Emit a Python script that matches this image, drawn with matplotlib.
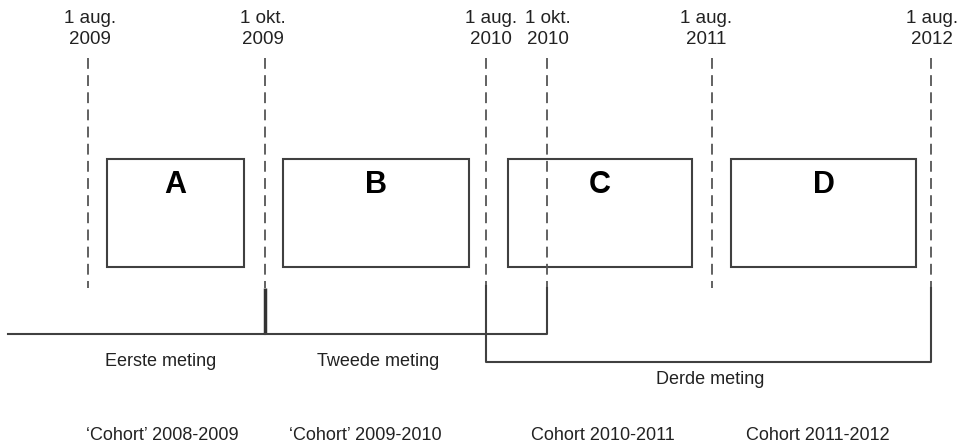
import matplotlib.pyplot as plt
from matplotlib.patches import Rectangle

plt.rcParams['font.family'] = ['Liberation Sans', 'DejaVu Sans']

# schematic timeline (positions on the diagram, left to right)
dates = ['1 aug.\n2009', '1 okt.\n2009', '1 aug.\n2010', '1 okt.\n2010', '1 aug.\n2011', '1 aug.\n2012']
date_pos = [88, 265, 486, 547, 712, 931]
label_pos = [90, 263, 491, 548, 706, 932]

blocks = ['A', 'B', 'C', 'D']
block_start = [107, 283, 508, 731]
block_end = [244, 469, 692, 916]

# measurements: (start, end, level)
metingen = ['Eerste meting', 'Tweede meting', 'Derde meting']
meting_start = [8, 265, 486]
meting_end = [265, 547, 931]
meting_level = [334, 334, 362]
meting_text_pos = [161, 378, 710]
meting_text_y = [362, 362, 380]

cohorts = ["\u2018Cohort\u2019 2008-2009", "\u2018Cohort\u2019 2009-2010", "Cohort 2010-2011", "Cohort 2011-2012"]
cohort_pos = [162, 365, 603, 818]

line_col = '#404040'

fig = plt.figure(figsize=(9.64, 4.46), dpi=100)
ax = fig.add_axes([0, 0, 1, 1])
ax.set_xlim(0, 964)
ax.set_ylim(446, 0)
ax.axis('off')

# dashed date lines and labels
for lab, x, lx in zip(dates, date_pos, label_pos):
    ax.plot([x, x], [58, 288], color='#555555', lw=1.3, ls=(0, (6, 3.5)))
    ax.text(lx, 29, lab, ha='center', va='center', fontsize=13.5, linespacing=1.3, color='#222222')

# boxes
for name, x0, x1 in zip(blocks, block_start, block_end):
    ax.add_patch(Rectangle((x0, 159), x1 - x0, 108, fill=False, ec=line_col, lw=1.5))
    ax.text((x0 + x1) / 2, 185, name, ha='center', va='center', fontsize=22, fontweight='bold')

# measurement brackets
ax.plot([meting_start[0], meting_end[0]], [meting_level[0], meting_level[0]], color=line_col, lw=1.5)
ax.plot([265, 265], [288, meting_level[0]], color='#333333', lw=2.5, solid_capstyle='butt')
ax.plot([meting_start[1], meting_end[1], meting_end[1]],
        [meting_level[1], meting_level[1], 288], color=line_col, lw=1.5)
ax.plot([meting_start[2], meting_start[2], meting_end[2], meting_end[2]],
        [286, meting_level[2], meting_level[2], 288], color=line_col, lw=1.5)

for lab, x, y in zip(metingen, meting_text_pos, meting_text_y):
    ax.text(x, y, lab, ha='center', va='center', fontsize=13, color='#222222')

for lab, x in zip(cohorts, cohort_pos):
    ax.text(x, 436, lab, ha='center', va='center', fontsize=13, color='#222222')

fig.savefig('out.png', dpi=100, facecolor='white')
